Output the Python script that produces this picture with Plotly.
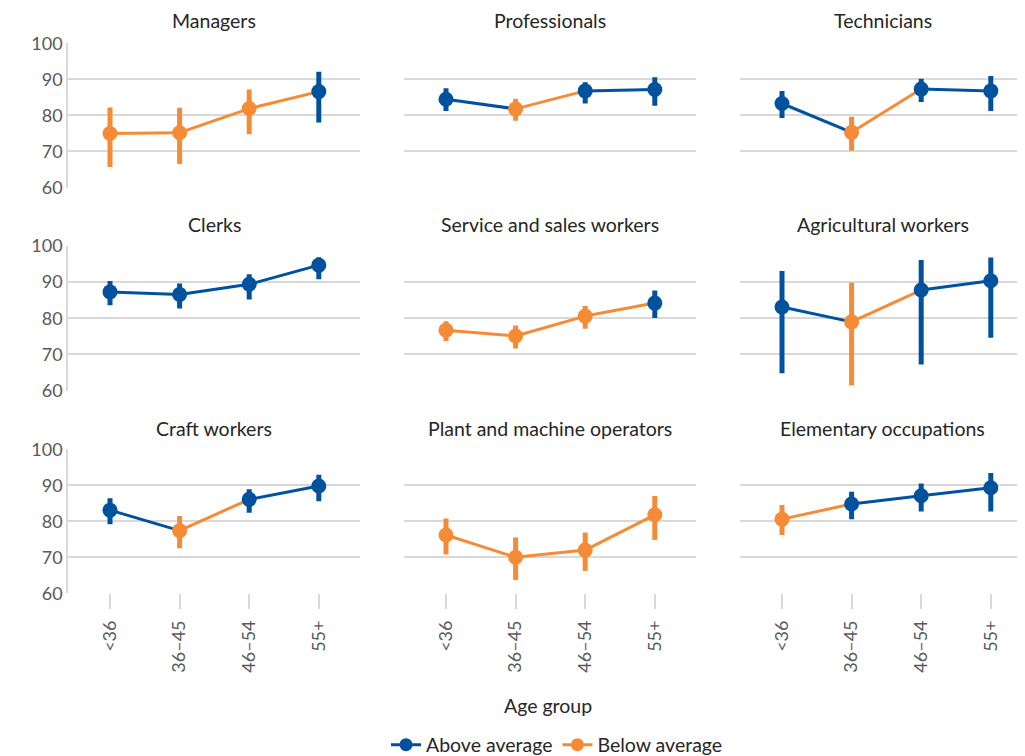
import plotly.graph_objects as go

# ---------------- data ----------------
age_groups = ["<36", "36–45", "46–54", "55+"]
occupations = [
    "Managers", "Professionals", "Technicians",
    "Clerks", "Service and sales workers", "Agricultural workers",
    "Craft workers", "Plant and machine operators", "Elementary occupations",
]
values = [
    [75.0, 75.2, 81.9, 86.6],
    [84.5, 81.8, 86.8, 87.2],
    [83.3, 75.3, 87.3, 86.8],
    [87.3, 86.6, 89.4, 94.7],
    [76.7, 75.1, 80.6, 84.2],
    [83.1, 79.0, 87.8, 90.4],
    [83.1, 77.4, 86.1, 89.8],
    [76.2, 70.0, 72.0, 81.8],
    [80.6, 84.8, 87.1, 89.3],
]
upper = [
    [82.2, 82.1, 87.2, 92.1],
    [87.5, 84.6, 89.2, 90.6],
    [86.8, 79.6, 90.2, 90.9],
    [90.3, 89.6, 92.2, 96.9],
    [79.2, 78.0, 83.4, 87.7],
    [93.1, 89.8, 96.1, 96.8],
    [86.4, 81.5, 88.9, 92.9],
    [80.8, 75.5, 76.9, 87.0],
    [84.5, 88.2, 90.5, 93.4],
]
lower = [
    [65.7, 66.5, 74.8, 78.0],
    [81.2, 78.5, 83.3, 82.7],
    [79.3, 70.2, 83.7, 81.2],
    [83.6, 82.7, 85.2, 90.8],
    [73.7, 71.6, 77.1, 80.1],
    [64.8, 61.4, 67.2, 74.6],
    [79.2, 72.5, 82.4, 85.6],
    [70.8, 63.7, 66.2, 74.8],
    [76.2, 80.6, 82.7, 82.7],
]
status = [
    ["below", "below", "below", "above"],
    ["above", "below", "above", "above"],
    ["above", "below", "above", "above"],
    ["above", "above", "above", "above"],
    ["below", "below", "below", "above"],
    ["above", "below", "above", "above"],
    ["above", "below", "above", "above"],
    ["below", "below", "below", "below"],
    ["below", "above", "above", "above"],
]
y_ticks = [60, 70, 80, 90, 100]
series_names = {"above": "Above average", "below": "Below average"}

# ---------------- style ----------------
OFF = 8  # page body margin
W, H = 1025 - OFF, 756 - OFF
BLUE = "#00529f"
ORANGE = "#f68b36"
COLORS = {"above": BLUE, "below": ORANGE}
GRID = "#d9d9d9"
FONT = "Lato"

# positions in screen pixels (converted to figure coords below)
col_px = [(68, 360), (404, 696), (740, 1025)]
row_px = [(43.3, 187.5), (246.0, 390.5), (449.3, 593.3)]
title_y = [21, 225, 428]
spacing = 69.6  # px per category


def fx(px):
    return (px - OFF) / W


def fy(py):
    return 1 - (py - OFF) / H


fig = go.Figure()
layout = {}

for i, occ in enumerate(occupations):
    r, c = divmod(i, 3)
    ax = "" if i == 0 else str(i + 1)
    xa, ya = "x" + ax, "y" + ax
    x0, x1 = col_px[c]
    y0, y1 = row_px[r]
    left = -42 / spacing
    right = left + (x1 - x0) / spacing
    xs = list(range(len(age_groups)))

    layout["xaxis" + ax] = dict(
        domain=[fx(x0), min(1.0, fx(x1))], range=[left, right], anchor=ya,
        showgrid=False, zeroline=False, showline=False,
        tickmode="array", tickvals=xs,
        ticktext=age_groups if r == 2 else [""] * 4,
        showticklabels=(r == 2), automargin=False,
        ticks="outside" if r == 2 else "", ticklen=15, tickwidth=1.5, tickcolor=GRID,
        ticklabelstandoff=4,
        tickangle=-90, tickfont=dict(family=FONT, size=18, color="#595959"),
        fixedrange=True,
    )
    layout["yaxis" + ax] = dict(
        domain=[fy(y1), fy(y0)], range=[60, 100], anchor=xa,
        tickmode="array", tickvals=y_ticks,
        showticklabels=(c == 0), ticks="", automargin=False,
        showgrid=True, gridcolor=GRID, gridwidth=1.5,
        zeroline=False, showline=(c == 0), linecolor=GRID, linewidth=1.5,
        tickfont=dict(family=FONT, size=18, color="#595959"),
        fixedrange=True,
    )

    vals, st = values[i], status[i]
    for key in ("above", "below"):
        sx, sy = [], []
        for k in range(len(xs) - 1):
            if st[k] == key:
                sx += [xs[k], xs[k + 1], None]
                sy += [vals[k], vals[k + 1], None]
        if sx:
            fig.add_trace(go.Scatter(
                x=sx, y=sy, mode="lines", xaxis=xa, yaxis=ya,
                line=dict(color=COLORS[key], width=3),
                showlegend=False, hoverinfo="skip"))
    for key in ("above", "below"):
        idx = [k for k in xs if st[k] == key]
        if not idx:
            continue
        fig.add_trace(go.Scatter(
            x=idx, y=[vals[k] for k in idx], mode="markers",
            xaxis=xa, yaxis=ya,
            marker=dict(color=COLORS[key], size=15),
            error_y=dict(type="data", symmetric=False,
                         array=[upper[i][k] - vals[k] for k in idx],
                         arrayminus=[vals[k] - lower[i][k] for k in idx],
                         color=COLORS[key], thickness=5, width=0),
            showlegend=False, name=series_names[key]))

    fig.add_annotation(
        text=occ, xref="paper", yref="paper",
        x=fx((x0 + x1) / 2), y=fy(title_y[r]),
        xanchor="center", yanchor="middle", showarrow=False,
        font=dict(family=FONT, size=19.5, color="#262626"))

for key in ("above", "below"):
    fig.add_trace(go.Scatter(
        x=[None], y=[None], mode="lines+markers", name=series_names[key],
        line=dict(color=COLORS[key], width=3),
        marker=dict(color=COLORS[key], size=13),
        xaxis="x", yaxis="y", showlegend=True))

fig.add_annotation(
    text="Age group", xref="paper", yref="paper",
    x=fx(548), y=fy(705), xanchor="center", yanchor="middle",
    showarrow=False, font=dict(family=FONT, size=19.5, color="#262626"))

fig.update_layout(
    **layout,
    width=W, height=H,
    margin=dict(l=0, r=0, t=0, b=0, autoexpand=False),
    paper_bgcolor="white", plot_bgcolor="white",
    font=dict(family=FONT, size=18, color="#262626"),
    legend=dict(orientation="h", x=fx(557), xanchor="center",
                y=fy(745), yanchor="middle",
                font=dict(family=FONT, size=19.5, color="#262626"),
                itemwidth=30, tracegroupgap=0),
)

fig.write_html("out.html")
